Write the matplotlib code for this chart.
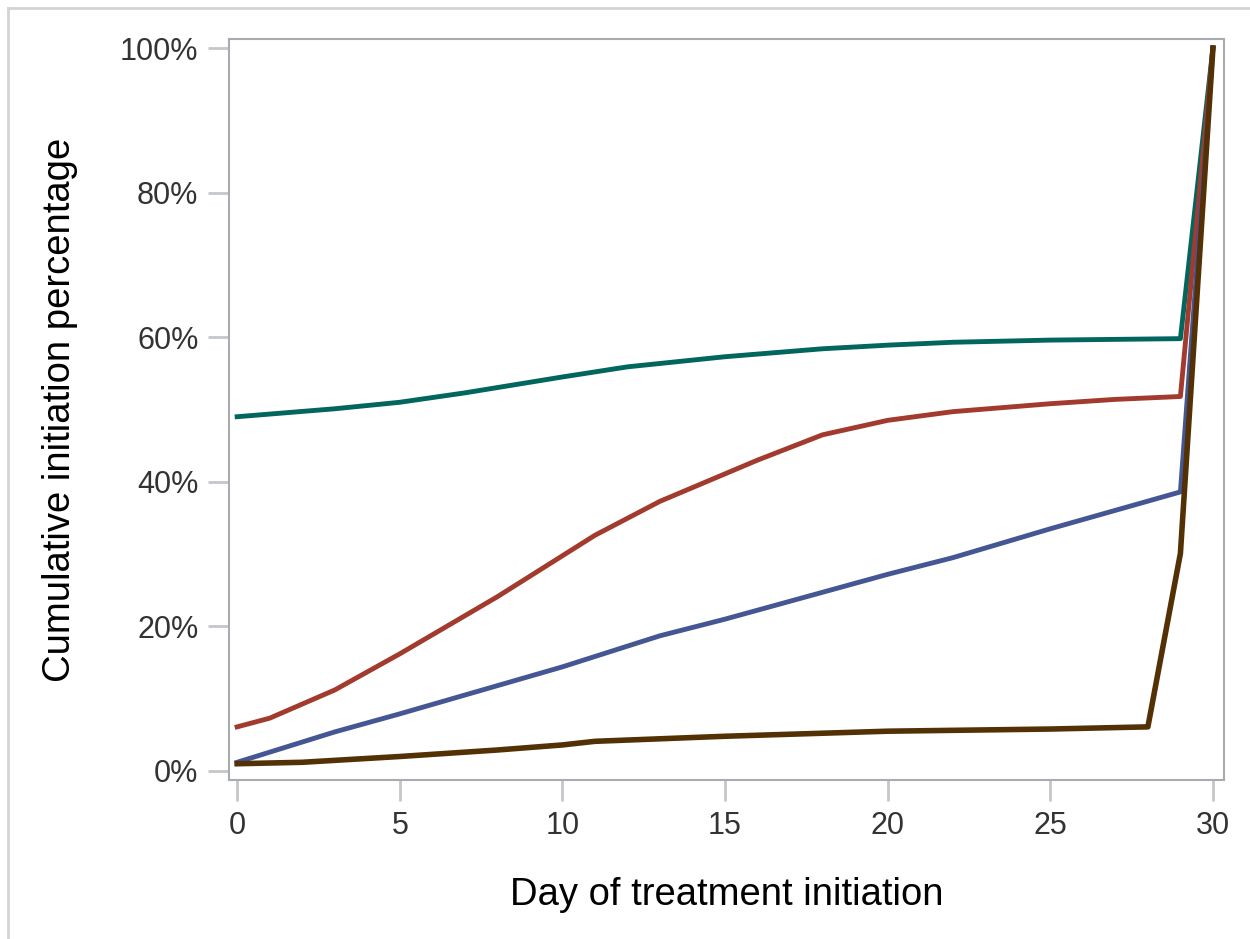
import numpy as np
import matplotlib.pyplot as plt
from matplotlib.lines import Line2D
from matplotlib.ticker import PercentFormatter

plt.rcParams['font.family'] = ['Liberation Sans', 'DejaVu Sans']

# Day of treatment initiation and cumulative percentages per group
teal_days = [0, 3, 5, 7, 10, 12, 15, 18, 20, 22, 25, 29, 30]
teal_pct = [49.0, 50.1, 51.0, 52.3, 54.5, 55.9, 57.3, 58.4, 58.9, 59.3, 59.6, 59.8, 100]

red_days = [0, 1, 3, 5, 8, 11, 13, 16, 18, 20, 22, 25, 27, 29, 30]
red_pct = [6.1, 7.3, 11.2, 16.2, 24.1, 32.6, 37.3, 43.0, 46.5, 48.5, 49.7, 50.8, 51.4, 51.8, 100]

blue_days = [0, 3, 5, 8, 10, 13, 15, 20, 22, 25, 29, 30]
blue_pct = [1.2, 5.4, 7.9, 11.8, 14.4, 18.7, 21.0, 27.2, 29.5, 33.5, 38.6, 100]

brown_days = [0, 2, 5, 8, 10, 11, 15, 20, 25, 28, 29, 30]
brown_pct = [1.0, 1.2, 2.0, 2.9, 3.6, 4.1, 4.8, 5.5, 5.8, 6.1, 30.1, 100]

W, H = 1250, 939
fig = plt.figure(figsize=(W / 100, H / 100), dpi=100)
# light outer border (only top and left edges visible in the original)
fig.add_artist(Line2D([8 / W, 8 / W], [0, 1 - 8 / H], transform=fig.transFigure,
                      color='#d4d4d4', linewidth=2))
fig.add_artist(Line2D([8 / W, 1], [1 - 8 / H, 1 - 8 / H], transform=fig.transFigure,
                      color='#d4d4d4', linewidth=2))

ax = fig.add_axes([229 / W, 1 - 780 / H, 995 / W, 741 / H])

ax.plot(teal_days, teal_pct, color='#01665E', linewidth=3.5)
ax.plot(red_days, red_pct, color='#A23A2E', linewidth=3.5)
ax.plot(blue_days, blue_pct, color='#445694', linewidth=3.5)
ax.plot(brown_days, brown_pct, color='#543005', linewidth=4.0)

ax.set_xlim(-0.25, 30.34)
ax.set_ylim(-1.25, 101.25)
ax.set_xticks([0, 5, 10, 15, 20, 25, 30])
ax.set_yticks([0, 20, 40, 60, 80, 100])
ax.yaxis.set_major_formatter(PercentFormatter(decimals=0))

for s in ax.spines.values():
    s.set_color('#a8abb0')
    s.set_linewidth(1.5)
ax.tick_params(axis='both', direction='out', length=15, width=2,
               color='#c4c7cb', labelsize=22, labelcolor='#333333', pad=7)

ax.set_xlabel('Day of treatment initiation', fontsize=27.5, labelpad=26)
ax.set_ylabel('Cumulative initiation percentage', fontsize=27.5, labelpad=30)

plt.savefig('out.png', dpi=100)
